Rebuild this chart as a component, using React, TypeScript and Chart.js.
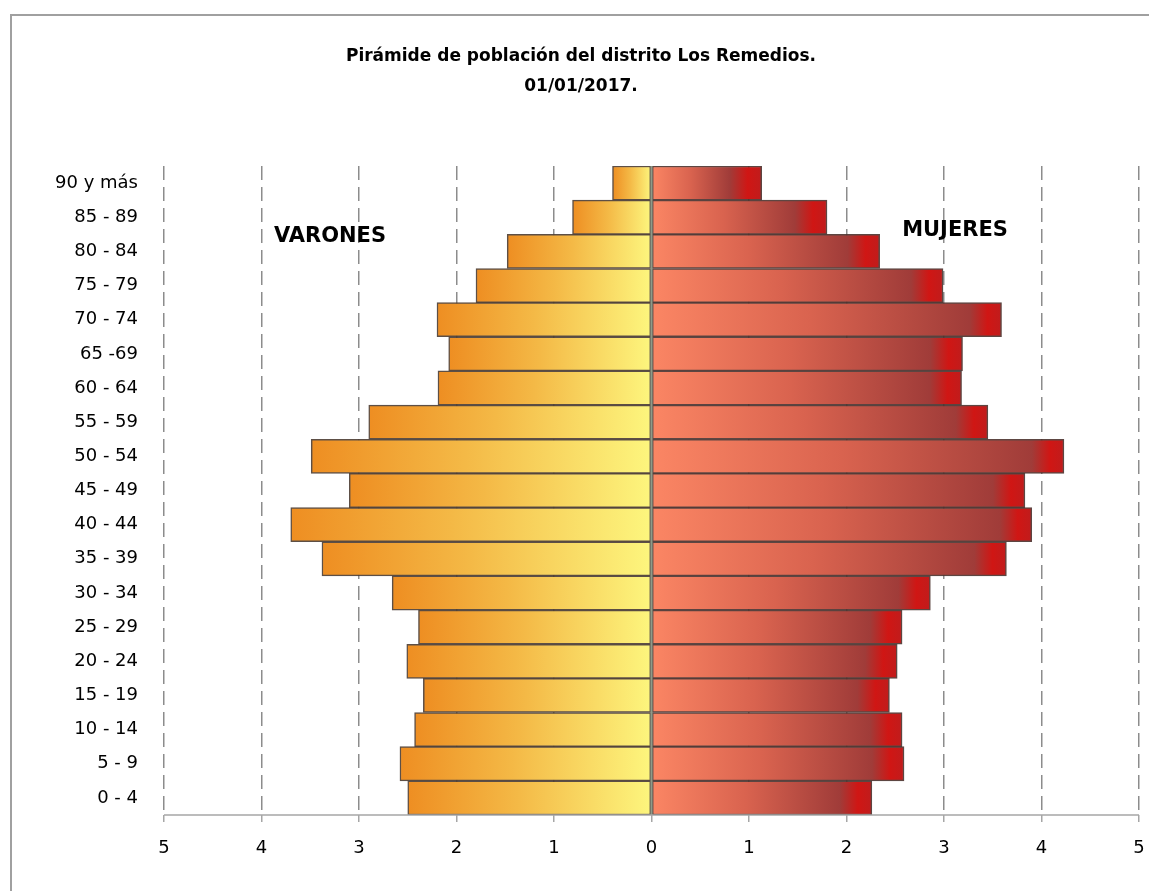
import React, { useEffect, useRef } from "react";
import { Chart, registerables } from "chart.js";

Chart.register(...registerables);

const ageGroups = [
  "90 y más", "85 - 89", "80 - 84", "75 - 79", "70 - 74", "65 -69", "60 - 64",
  "55 - 59", "50 - 54", "45 - 49", "40 - 44", "35 - 39", "30 - 34", "25 - 29",
  "20 - 24", "15 - 19", "10 - 14", "5 - 9", "0 - 4",
];
const varones = [0.40, 0.81, 1.48, 1.80, 2.20, 2.08, 2.19, 2.90, 3.49, 3.10, 3.70, 3.38, 2.66, 2.39, 2.51, 2.34, 2.43, 2.58, 2.50];
const mujeres = [1.13, 1.80, 2.34, 2.99, 3.59, 3.19, 3.18, 3.45, 4.23, 3.83, 3.90, 3.64, 2.86, 2.57, 2.52, 2.44, 2.57, 2.59, 2.26];
const xTicks = [-5, -4, -3, -2, -1, 0, 1, 2, 3, 4, 5];
const titleLines = ["Pirámide de población del distrito Los Remedios.", "01/01/2017."];
const FONT = "'DejaVu Sans', 'Open Sans', sans-serif";

function maleBg(ctx: any) {
  const chart = ctx.chart;
  const xs = chart.scales && chart.scales.x;
  if (!xs || ctx.raw == null) return "#F4B844";
  const p0 = xs.getPixelForValue(0);
  const p1 = xs.getPixelForValue(ctx.raw);
  if (!isFinite(p0) || !isFinite(p1) || p0 === p1) return "#F4B844";
  const g = chart.ctx.createLinearGradient(p1, 0, p0, 0);
  g.addColorStop(0, "#EE8E22");
  g.addColorStop(0.45, "#F4B946");
  g.addColorStop(1, "#FDF67E");
  return g;
}

function femaleBg(ctx: any) {
  const chart = ctx.chart;
  const xs = chart.scales && chart.scales.x;
  if (!xs || ctx.raw == null) return "#D6604E";
  const p0 = xs.getPixelForValue(0);
  const p1 = xs.getPixelForValue(ctx.raw);
  if (!isFinite(p0) || !isFinite(p1) || p0 === p1) return "#D6604E";
  const w = Math.abs(p1 - p0);
  const g = chart.ctx.createLinearGradient(p0, 0, p1, 0);
  const darkAt = Math.max(0.5, 1 - 32 / w);
  const redAt = Math.max(0.6, 1 - 14 / w);
  g.addColorStop(0, "#FB8664");
  g.addColorStop(darkAt * 0.5, "#D9634F");
  g.addColorStop(darkAt, "#A03C39");
  g.addColorStop(redAt, "#D01614");
  g.addColorStop(1, "#C01C1C");
  return g;
}

const decorPlugin = {
  id: "decor",
  beforeDraw(chart: any) {
    const { ctx, width, height } = chart;
    ctx.save();
    ctx.fillStyle = "#ffffff";
    ctx.fillRect(0, 0, width, height);
    ctx.strokeStyle = "#a0a0a0";
    ctx.lineWidth = 2;
    ctx.beginPath();
    ctx.moveTo(11, height + 5);
    ctx.lineTo(11, 15);
    ctx.lineTo(width + 5, 15);
    ctx.stroke();
    ctx.restore();
  },
  afterDatasetsDraw(chart: any) {
    const { ctx, chartArea } = chart;
    const xs = chart.scales.x;
    const x0 = xs.getPixelForValue(0);
    ctx.save();
    ctx.strokeStyle = "#8E9A88";
    ctx.lineWidth = 2;
    ctx.beginPath();
    ctx.moveTo(x0, chartArea.top);
    ctx.lineTo(x0, chartArea.bottom);
    ctx.stroke();
    ctx.strokeStyle = "#a6a6a6";
    ctx.lineWidth = 1.5;
    ctx.beginPath();
    ctx.moveTo(chartArea.left, chartArea.bottom);
    ctx.lineTo(chartArea.right, chartArea.bottom);
    ctx.stroke();
    ctx.restore();
  },
  afterDraw(chart: any) {
    const { ctx } = chart;
    ctx.save();
    ctx.fillStyle = "#000";
    ctx.textAlign = "center";
    ctx.textBaseline = "middle";
    ctx.font = `bold 17px ${FONT}`;
    ctx.fillText(titleLines[0], 581, 57);
    ctx.fillText(titleLines[1], 581, 87);
    ctx.font = `bold 21px ${FONT}`;
    ctx.fillText("VARONES", 330, 237);
    ctx.fillText("MUJERES", 955, 231);
    ctx.restore();
  },
};

export default function App() {
  const ref = useRef<HTMLCanvasElement | null>(null);
  useEffect(() => {
    if (!ref.current) return;
    const chart = new Chart(ref.current, {
      type: "bar",
      data: {
        labels: ageGroups,
        datasets: [
          {
            label: "Varones",
            data: varones.map((v) => -v),
            backgroundColor: maleBg as any,
            borderColor: "rgba(75,60,50,0.9)",
            borderWidth: 1.5,
            borderSkipped: false,
            barPercentage: 1,
            categoryPercentage: 1,
          },
          {
            label: "Mujeres",
            data: mujeres,
            backgroundColor: femaleBg as any,
            borderColor: "rgba(75,50,45,0.9)",
            borderWidth: 1.5,
            borderSkipped: false,
            barPercentage: 1,
            categoryPercentage: 1,
          },
        ],
      },
      options: {
        indexAxis: "y",
        responsive: false,
        animation: false,
        layout: { padding: { top: 166, left: 8, right: 10, bottom: 0 } },
        plugins: {
          legend: { display: false },
          tooltip: { enabled: false },
          title: { display: false },
        },
        scales: {
          x: {
            type: "linear",
            stacked: true,
            min: -5,
            max: 5,
            afterBuildTicks: (scale: any) => {
              scale.ticks = xTicks.map((v) => ({ value: v }));
            },
            afterFit: (scale: any) => {
              scale.height = 76;
              scale.paddingLeft = 0;
              scale.paddingRight = 0;
            },
            ticks: {
              stepSize: 1,
              padding: 16,
              color: "#000",
              font: { family: FONT, size: 18 },
              callback: (v: any) => String(Math.abs(Number(v))),
            },
            grid: {
              color: (c: any) => (c.tick && c.tick.value === 0 ? "rgba(0,0,0,0)" : "#8c8c8c"),
              lineWidth: 1.5,
              drawTicks: true,
              tickLength: 7,
              tickColor: "#a6a6a6",
              tickWidth: 1.5,
            },
            border: { display: false, dash: [14, 7] },
          },
          y: {
            type: "category",
            stacked: true,
            afterFit: (scale: any) => {
              scale.width = 156;
            },
            ticks: {
              padding: 26,
              color: "#000",
              font: { family: FONT, size: 18 },
              autoSkip: false,
            },
            grid: { display: false, drawTicks: false },
            border: { display: false },
          },
        },
      },
      plugins: [decorPlugin],
    });
    return () => chart.destroy();
  }, []);
  return (
    <div style={{ position: "fixed", left: 0, top: 0, width: 1149, height: 891, background: "#fff" }}>
      <canvas ref={ref} width={1149} height={891} style={{ display: "block" }} />
    </div>
  );
}
